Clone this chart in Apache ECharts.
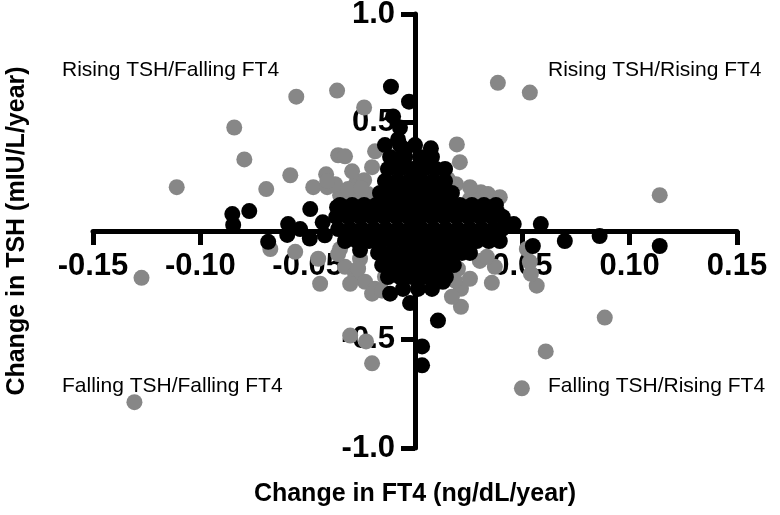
<!DOCTYPE html>
<html>
<head>
<meta charset="utf-8">
<script src="https://cdn.jsdelivr.net/npm/echarts@6/dist/echarts.min.js"></script>
<style>
  html, body { margin: 0; padding: 0; background: #fff; }
  #chart { width: 780px; height: 515px; }
</style>
</head>
<body>
<div id="chart"></div>
<script>
// Axis ranges and titles
const xRange = [-0.15, 0.15];
const yRange = [-1.0, 1.0];
const xTitle = 'Change in FT4 (ng/dL/year)';
const yTitle = 'Change in TSH (mIU/L/year)';
const quadrantLabels = ['Rising TSH/Falling FT4', 'Rising TSH/Rising FT4', 'Falling TSH/Falling FT4', 'Falling TSH/Rising FT4'];

// Gray group: [change in FT4, change in TSH]
const grayPoints = [
  [-0.0553, 0.619], [-0.0363, 0.647], [-0.0237, 0.569], [-0.0842, 0.477], [-0.0795, 0.330],
  [-0.111, 0.202], [-0.0693, 0.193], [-0.0581, 0.257], [-0.0358, 0.349], [-0.0326, 0.344],
  [-0.0414, 0.261], [-0.0474, 0.202], [-0.0409, 0.202], [-0.0274, 0.220], [-0.0237, 0.234],
  [-0.020, 0.294], [-0.0349, 0.165], [-0.0279, 0.156], [-0.0219, 0.170], [-0.0186, 0.367],
  [-0.0293, 0.275], [-0.0372, 0.216], [-0.0312, 0.193], [-0.0409, 0.230], [-0.0251, 0.197],
  [0.0386, 0.683], [0.0535, 0.638], [0.0195, 0.399], [0.0209, 0.317], [0.0191, 0.216],
  [0.0307, 0.179], [0.0363, 0.138], [0.034, 0.170], [0.114, 0.165], [0.0256, 0.147],
  [0.0153, 0.239], [0.0256, 0.202], [0.0395, 0.156],
  [-0.1274, -0.216], [-0.1307, -0.789], [-0.0442, -0.243], [-0.0302, -0.482], [-0.0228, -0.509],
  [-0.020, -0.610], [-0.0674, -0.083], [-0.0558, -0.096], [-0.0451, -0.128], [-0.0326, -0.165],
  [-0.0279, -0.197], [-0.0233, -0.234], [-0.0186, -0.266], [-0.0302, -0.243], [-0.0349, -0.083],
  [-0.0256, -0.128], [-0.014, -0.211], [-0.020, -0.289], [-0.0358, -0.106], [-0.0265, -0.174],
  [-0.0153, -0.275],
  [0.0521, -0.083], [0.0567, -0.252], [0.0358, -0.239], [0.0214, -0.349], [0.0214, -0.266],
  [0.020, -0.174], [0.0884, -0.399], [0.0609, -0.555], [0.0498, -0.725], [0.0302, -0.138],
  [0.0372, -0.165], [0.0256, -0.220], [0.0535, -0.142], [0.0163, -0.128], [0.0186, -0.229],
  [0.0335, -0.119], [0.0172, -0.303], [0.054, -0.197]
];

// Black group: [change in FT4, change in TSH]
const blackPoints = [
  [-0.0112, 0.665], [-0.0028, 0.596], [-0.0102, 0.528], [-0.007, 0.477], [-0.0079, 0.422],
  [-0.0047, 0.376], [-0.0093, 0.330], [0.0074, 0.381],
  [-0.0851, 0.078], [-0.0772, 0.092], [-0.0847, 0.028], [-0.0684, -0.050], [-0.0595, -0.018],
  [-0.0535, 0.009], [-0.0488, 0.101], [-0.0363, 0.110], [-0.0591, 0.032], [-0.043, 0.040],
  [-0.049, -0.035], [-0.042, -0.020],
  [0.0386, 0.083], [0.046, 0.032], [0.0586, 0.032], [0.0698, -0.046], [0.086, -0.023],
  [0.114, -0.069], [0.0549, -0.069],
  [0.0107, -0.413], [0.0033, -0.532], [0.0033, -0.619], [-0.0116, -0.289], [-0.0023, -0.332],
  [0.013, -0.234],
  [-0.014, 0.396], [-0.007, 0.396], [0.0, 0.396],
  [-0.0116, 0.341], [-0.0047, 0.341], [0.0023, 0.341], [0.0079, 0.341],
  [-0.0126, 0.286], [-0.007, 0.286], [-0.0014, 0.286], [0.0042, 0.286], [0.0098, 0.286], [0.014, 0.286],
  [-0.014, 0.230], [-0.0084, 0.230], [-0.0028, 0.230], [0.0028, 0.230], [0.0084, 0.230], [0.014, 0.230],
  [-0.0163, 0.175], [-0.0107, 0.175], [-0.0051, 0.175], [0.0005, 0.175], [0.006, 0.175], [0.0116, 0.175], [0.0172, 0.175],
  [-0.0349, 0.120], [-0.0293, 0.120], [-0.0237, 0.120], [-0.0181, 0.120], [-0.0126, 0.120], [-0.007, 0.120],
  [-0.0014, 0.120], [0.0042, 0.120], [0.0098, 0.120], [0.0153, 0.120], [0.0209, 0.120], [0.0265, 0.120],
  [0.0321, 0.120], [0.0377, 0.120],
  [-0.0367, 0.065], [-0.0312, 0.065], [-0.0256, 0.065], [-0.020, 0.065], [-0.0144, 0.065], [-0.0088, 0.065],
  [-0.0033, 0.065], [0.0023, 0.065], [0.0079, 0.065], [0.0135, 0.065], [0.0191, 0.065], [0.0247, 0.065],
  [0.0302, 0.065], [0.0358, 0.065], [0.0409, 0.065],
  [-0.0358, 0.009], [-0.0302, 0.009], [-0.0247, 0.009], [-0.0191, 0.009], [-0.0135, 0.009], [-0.0079, 0.009],
  [-0.0023, 0.009], [0.0033, 0.009], [0.0088, 0.009], [0.0144, 0.009], [0.020, 0.009], [0.0256, 0.009],
  [0.0312, 0.009], [0.0367, 0.009], [0.0405, 0.009],
  [-0.0326, -0.046], [-0.027, -0.046], [-0.0214, -0.046], [-0.0158, -0.046], [-0.0102, -0.046], [-0.0047, -0.046],
  [0.0009, -0.046], [0.0065, -0.046], [0.0121, -0.046], [0.0177, -0.046], [0.0233, -0.046], [0.0288, -0.046],
  [0.0344, -0.046], [0.0395, -0.046],
  [-0.0256, -0.088],
  [-0.0172, -0.101], [-0.0116, -0.101], [-0.006, -0.101], [-0.0005, -0.101], [0.0051, -0.101], [0.0107, -0.101],
  [0.0163, -0.101], [0.0219, -0.101], [0.0256, -0.101],
  [-0.0153, -0.157], [-0.0098, -0.157], [-0.0042, -0.157], [0.0014, -0.157], [0.007, -0.157], [0.0126, -0.157], [0.0181, -0.157],
  [-0.0126, -0.212], [-0.007, -0.212], [-0.0014, -0.212], [0.0042, -0.212], [0.0098, -0.212], [0.0144, -0.212],
  [-0.0056, -0.267], [0.0014, -0.267], [0.0079, -0.267]
];

const GRAY = '#878787';
const FONT = '"Liberation Sans", Arial, Helvetica, sans-serif';

const chart = echarts.init(document.getElementById('chart'), null, { renderer: 'canvas' });

function fmt(digits) {
  return function (v) {
    if (Math.abs(v) < 1e-9) return '';
    return v.toFixed(digits);
  };
}

const axisCommon = {
  type: 'value',
  axisLine: { show: true, onZero: true, lineStyle: { color: '#000', width: 5 } },
  axisTick: { show: true, length: 14, interval: 0, lineStyle: { color: '#000', width: 5 } },
  splitLine: { show: false },
  nameLocation: 'middle',
  nameTextStyle: { color: '#000', fontSize: 25, fontWeight: 'bold', fontFamily: FONT }
};

const labelCommon = { show: true, interval: 0, hideOverlap: false, color: '#000', fontSize: 31, fontWeight: 'bold', fontFamily: FONT, showMinLabel: true, showMaxLabel: true };

chart.setOption({
  animation: false,
  backgroundColor: '#fff',
  grid: { left: 93, right: 43, top: 14, bottom: 67, containLabel: false, outerBoundsMode: 'none' },
  xAxis: Object.assign({}, axisCommon, {
    min: xRange[0], max: xRange[1], interval: 0.05,
    name: xTitle, nameGap: 34,
    axisLabel: Object.assign({}, labelCommon, { margin: -197, formatter: fmt(2) })
  }),
  yAxis: Object.assign({}, axisCommon, {
    min: yRange[0], max: yRange[1], interval: 0.5,
    name: yTitle, nameGap: 63,
    axisLabel: Object.assign({}, labelCommon, { margin: -302, formatter: fmt(1) })
  }),
  graphic: [
    { type: 'text', left: 62, top: 60, style: { text: quadrantLabels[0], fill: '#000', font: '21px ' + FONT } },
    { type: 'text', left: 548, top: 60, style: { text: quadrantLabels[1], fill: '#000', font: '21px ' + FONT } },
    { type: 'text', left: 62, top: 376, style: { text: quadrantLabels[2], fill: '#000', font: '21px ' + FONT } },
    { type: 'text', left: 548, top: 376, style: { text: quadrantLabels[3], fill: '#000', font: '21px ' + FONT } }
  ],
  series: [
    {
      type: 'scatter', name: 'gray', data: grayPoints, symbol: 'circle', symbolSize: 16,
      itemStyle: { color: GRAY, opacity: 1 }, silent: true, z: 2
    },
    {
      type: 'scatter', name: 'black', data: blackPoints, symbol: 'circle', symbolSize: 16,
      itemStyle: { color: '#000', opacity: 1 }, silent: true, z: 3
    }
  ]
});
</script>
</body>
</html>
